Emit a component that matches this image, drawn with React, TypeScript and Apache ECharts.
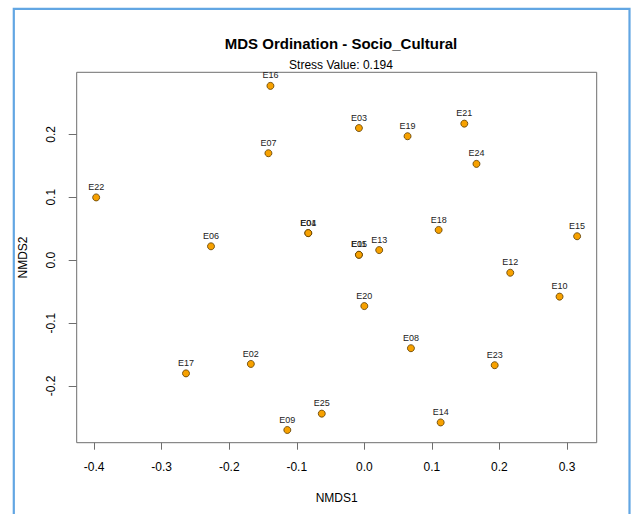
import React, { useEffect, useRef } from "react";
import * as echarts from "echarts";

const siteNames = ["E01", "E02", "E03", "E04", "E05", "E06", "E07", "E08", "E09", "E10", "E11", "E12", "E13", "E14", "E15", "E16", "E17", "E18", "E19", "E20", "E21", "E22", "E23", "E24", "E25"];
const nmds1 = [-0.083, -0.168, -0.008, -0.083, -0.008, -0.227, -0.142, 0.069, -0.114, 0.289, -0.008, 0.216, 0.022, 0.113, 0.315, -0.139, -0.264, 0.110, 0.064, 0.0, 0.148, -0.397, 0.193, 0.166, -0.063];
const nmds2 = [0.043, -0.165, 0.210, 0.043, 0.0085, 0.022, 0.170, -0.140, -0.270, -0.058, 0.0085, -0.020, 0.016, -0.258, 0.038, 0.277, -0.180, 0.048, 0.197, -0.073, 0.217, 0.0997, -0.167, 0.153, -0.244];
const xTicks = [-0.4, -0.3, -0.2, -0.1, 0.0, 0.1, 0.2, 0.3];
const yTicks = [-0.2, -0.1, 0.0, 0.1, 0.2];
const titleText = "MDS Ordination - Socio_Cultural";
const subtitleText = "Stress Value: 0.194";

export default function App() {
  const ref = useRef<HTMLDivElement>(null);
  useEffect(() => {
    if (!ref.current) return;
    const chart = echarts.init(ref.current, undefined, { renderer: "svg" });
    const font = "Liberation Sans, Arial, sans-serif";
    const data = siteNames.map((n, i) => ({ name: n, value: [nmds1[i], nmds2[i]] }));
    chart.setOption({
      animation: false,
      backgroundColor: "#ffffff",
      textStyle: { fontFamily: font },
      title: [
        {
          text: titleText,
          left: 336,
          top: 31,
          textAlign: "center",
          textStyle: { fontFamily: font, fontSize: 15, fontWeight: "bold", color: "#000" },
        },
        {
          text: subtitleText,
          left: 336,
          top: 54,
          textAlign: "center",
          textStyle: { fontFamily: font, fontSize: 12, fontWeight: "normal", color: "#000" },
        },
      ],
      grid: {
        left: 76.7,
        right: 34.3,
        top: 72.3,
        bottom: 71.3,
        show: true,
        borderColor: "#6e6e6e",
        borderWidth: 1,
        backgroundColor: "transparent",
      },
      xAxis: {
        type: "value",
        min: -0.4258,
        max: 0.344,
        name: "NMDS1",
        nameLocation: "middle",
        nameGap: 49,
        nameTextStyle: { fontFamily: font, fontSize: 12, color: "#000" },
        axisLine: { show: false, onZero: false },
        splitLine: { show: false },
        axisTick: { show: true, length: 7, customValues: xTicks, lineStyle: { color: "#6e6e6e" } },
        axisLabel: {
          customValues: xTicks,
          margin: 18,
          fontSize: 12,
          color: "#000",
          fontFamily: font,
          formatter: (v: number) => v.toFixed(1),
        },
      },
      yAxis: {
        type: "value",
        min: -0.2902,
        max: 0.2986,
        name: "NMDS2",
        nameLocation: "middle",
        nameGap: 48,
        nameRotate: 90,
        nameTextStyle: { fontFamily: font, fontSize: 12, color: "#000" },
        axisLine: { show: false, onZero: false },
        splitLine: { show: false },
        axisTick: { show: true, length: 8, customValues: yTicks, lineStyle: { color: "#6e6e6e" } },
        axisLabel: {
          customValues: yTicks,
          rotate: 90,
          margin: 20,
          fontSize: 12,
          color: "#000",
          fontFamily: font,
          formatter: (v: number) => v.toFixed(1),
        },
      },
      series: [
        {
          type: "scatter",
          data,
          symbol: "circle",
          symbolSize: 7,
          itemStyle: { color: "#f7a100", borderColor: "#5a3b00", borderWidth: 0.8, opacity: 1 },
          label: {
            show: true,
            position: "top",
            distance: 2,
            formatter: (p: any) => p.name,
            fontSize: 9,
            color: "#222",
            fontFamily: font,
          },
          labelLayout: { hideOverlap: false },
          emphasis: { disabled: true },
        },
      ],
      graphic: [
        {
          type: "polyline",
          shape: { points: [[13.8, 514], [13.8, 8.8], [629.5, 8.8], [629.5, 514]] },
          style: { stroke: "#62a6e3", lineWidth: 2.2, fill: "none" },
          silent: true,
        },
      ],
    });
    return () => chart.dispose();
  }, []);
  return (
    <div
      ref={ref}
      style={{ position: "fixed", left: 0, top: 0, width: 631, height: 514 }}
    />
  );
}
